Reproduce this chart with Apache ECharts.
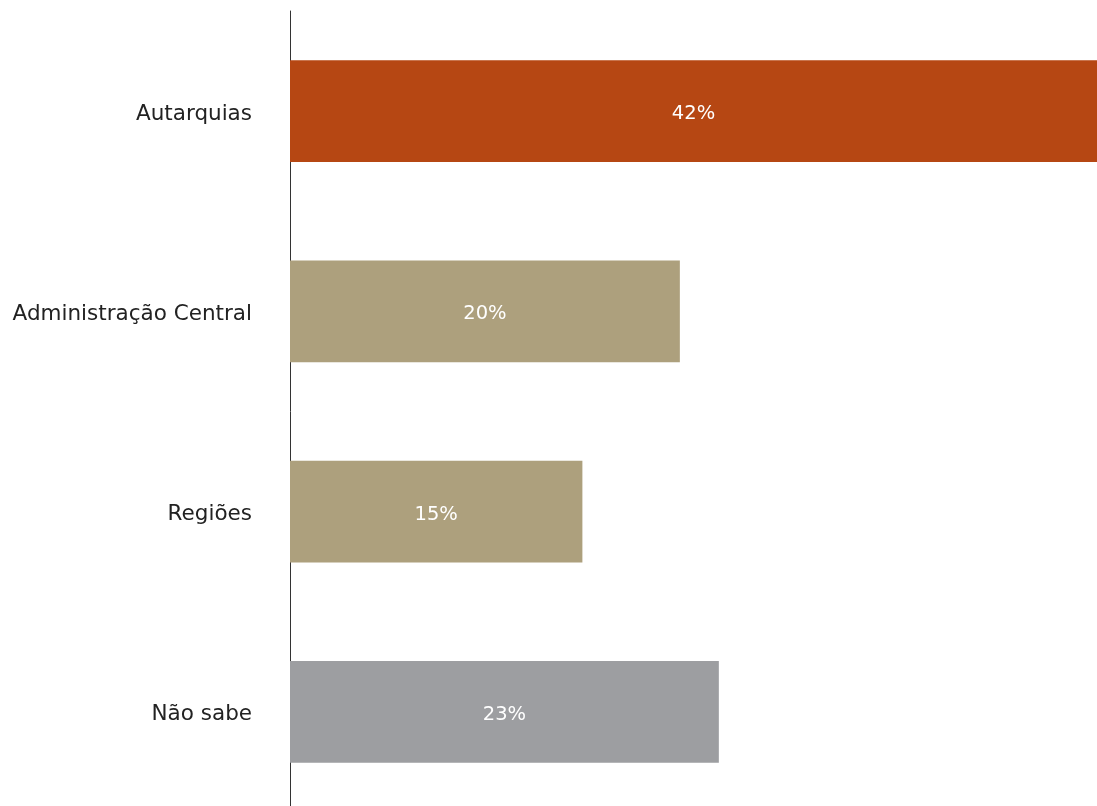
<!DOCTYPE html>
<html>
<head>
<meta charset="utf-8">
<script src="https://cdn.jsdelivr.net/npm/echarts@6/dist/echarts.min.js"></script>
<style>
html,body{margin:0;padding:0;background:#fff;overflow:hidden;}
#chart{width:1097px;height:812px;}
</style>
</head>
<body>
<div id="chart"></div>
<script>
const categories = ['Autarquias', 'Administração Central', 'Regiões', 'Não sabe'];
const values = [42, 20, 15, 22];
const valueLabels = ['42%', '20%', '15%', '23%'];
const barColors = ['#B64713', '#ADA07D', '#ADA07D', '#9D9EA1'];

const chart = echarts.init(document.getElementById('chart'), null, {renderer: 'canvas'});
const fontFamily = '"DejaVu Sans", "Noto Sans", sans-serif';
chart.setOption({
  animation: false,
  backgroundColor: '#ffffff',
  grid: {left: 290, top: 11, right: 0, bottom: 0, containLabel: false},
  xAxis: {
    type: 'value', min: 0, max: 41.4,
    show: false
  },
  yAxis: {
    type: 'category', inverse: true, data: categories,
    axisLine: {show: true, lineStyle: {color: '#333333', width: 1}},
    axisTick: {show: false},
    axisLabel: {
      margin: 38,
      formatter: v => '{c|' + v + '}',
      rich: {c: {color: '#222222', fontSize: 21.5, fontFamily: fontFamily, padding: [6, 0, 0, 0]}}
    }
  },
  series: [{
    type: 'bar',
    barWidth: '50.8%',
    clip: true,
    data: values.map((v, i) => ({value: v, itemStyle: {color: barColors[i]}})),
    label: {
      show: true, position: 'inside', color: '#ffffff', fontSize: 19.5, fontFamily: fontFamily,
      offset: [0, 3],
      formatter: p => valueLabels[p.dataIndex]
    }
  }]
});
</script>
</body>
</html>
